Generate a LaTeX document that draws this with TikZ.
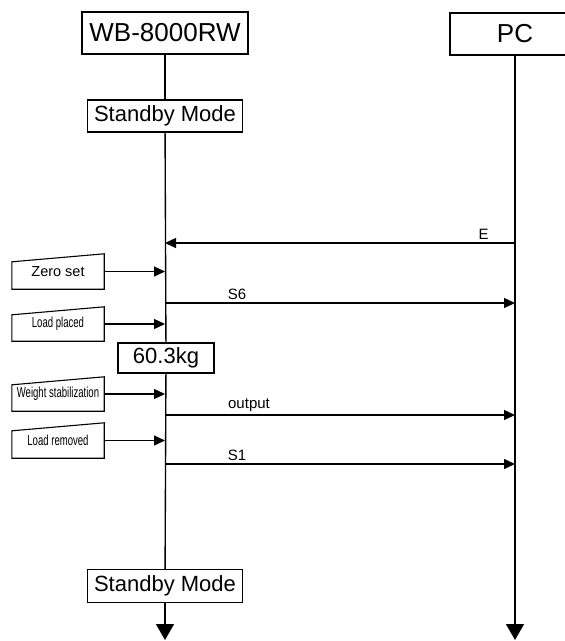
\documentclass[tikz,border=0pt]{standalone}
\usepackage{fontspec}
\setmainfont{Liberation Sans}
\usepackage{graphicx}
\usetikzlibrary{arrows.meta}

\newcommand{\squeeze}[1]{\scalebox{0.66}[1]{#1}}

\begin{document}
\begin{tikzpicture}[x=1pt, y=-1pt,
    every node/.style={inner sep=0pt},
    lifebox/.style={draw, line width=2.6pt, fill=white, minimum height=42pt, font=\fontsize{26}{30}\selectfont},
    state/.style={draw, line width=1.1pt, fill=white, minimum height=32pt, font=\fontsize{22}{26}\selectfont},
    inputbox/.style={minimum width=92pt, minimum height=35pt, font=\fontsize{14.5}{16}\selectfont},
    msg/.style={-{Triangle[length=11pt,width=10pt]}, line width=1.35pt},
    life/.style={line width=1.35pt},
    lifeend/.style={life, -{Triangle[length=16pt,width=18pt]}},
    msglabel/.style={above=3pt, font=\fontsize{15}{17}\selectfont}
]
\useasboundingbox (0,0) rectangle (565,641);

% Lifeline heads
\node[lifebox, minimum width=166pt] (wb) at (165,33) {WB-8000RW};
\node[lifebox, minimum width=130pt] (pc) at (515,34) {PC};

% States on the scale side
\node[state, minimum width=155pt] (standby) at (165,116) {Standby Mode};
\node[state, minimum width=96pt, minimum height=30pt] (weight) at (166,358) {60.3kg};
\node[state, minimum width=155pt, minimum height=33pt] (standbyend) at (165,586) {Standby Mode};

% Operator inputs
\node[inputbox] (zero) at (58,271.5) {Zero set};
\node[inputbox, minimum height=34pt] (placed) at (58,324) {\squeeze{Load placed}};
\node[inputbox, minimum height=34pt] (stable) at (58,394) {\squeeze{Weight stabilization}};
\node[inputbox] (removed) at (58,440.5) {\squeeze{Load removed}};
\foreach \n in {zero, placed, stable, removed}
    \draw[line width=1.1pt] (\n.south west) -- ([yshift=-8pt]\n.north west) -- (\n.north east) -- (\n.south east) -- cycle;

% Lifelines
\coordinate (wbend) at (165,640);
\coordinate (pcend) at (515,640);
\draw[life] (wb) -- (standby);
\draw[life] (standby) -- (weight);
\draw[life] (weight) -- (standbyend);
\draw[lifeend] (standbyend) -- (wbend);
\draw[lifeend] (pc) -- (pcend);

% Message rows
\coordinate (rowE) at (0,243);
\coordinate (rowS6) at (0,303);
\coordinate (rowout) at (0,415);
\coordinate (rowS1) at (0,464);

% Messages
\draw[msg] (pc |- rowE) -- (wb |- rowE) node[msglabel, pos=0.09] {E};
\draw[msg] (wb |- rowS6) -- (pc |- rowS6) node[msglabel, pos=0.206] {S6};
\draw[msg] (wb |- rowout) -- (pc |- rowout) node[msglabel, pos=0.24] {output};
\draw[msg] (wb |- rowS1) -- (pc |- rowS1) node[msglabel, pos=0.206] {S1};

% Inputs into the scale
\draw[msg] (zero.east) -- (zero -| wb);
\draw[msg] (placed.east) -- (placed -| wb);
\draw[msg] (stable.east) -- (stable -| wb);
\draw[msg] (removed.east) -- (removed -| wb);

\end{tikzpicture}
\end{document}
